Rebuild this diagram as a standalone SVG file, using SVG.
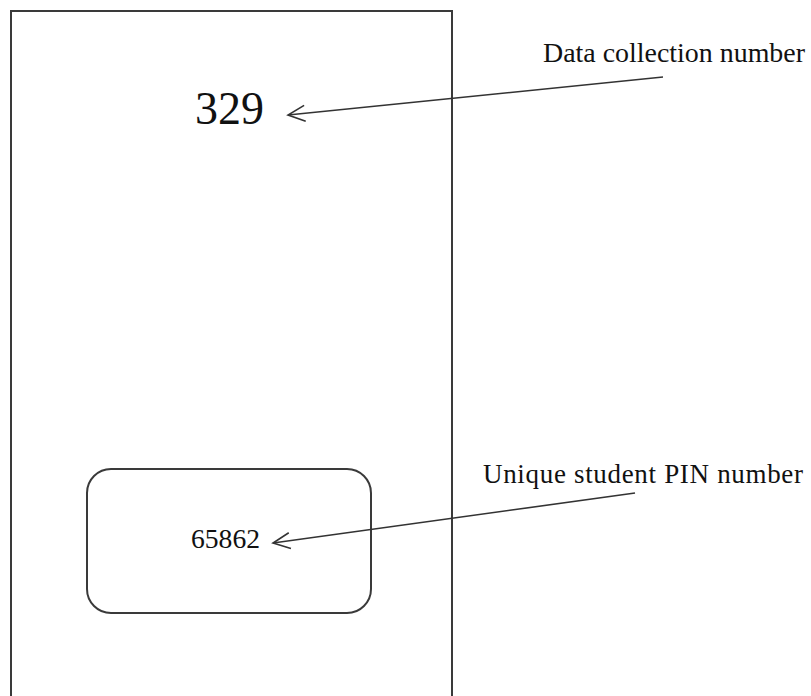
<svg xmlns="http://www.w3.org/2000/svg" width="811" height="696" viewBox="0 0 811 696">
<style>
.box{fill:none;stroke:#3a3a3a;stroke-width:2}
.lbl{font-family:"Liberation Serif","Times New Roman",serif;fill:#111}
.conn{fill:none;stroke:#333;stroke-width:1.6}
</style>
<defs>
<marker id="arr" markerWidth="20" markerHeight="18" refX="18" refY="9" orient="auto" markerUnits="userSpaceOnUse">
<path d="M1,1 L18,9 L1,17" fill="none" stroke="#333" stroke-width="1.6"/>
</marker>
</defs>
<rect width="811" height="696" fill="#fff"/>
<g id="card">
<rect class="box" x="11" y="11" width="441" height="700"/>
<text class="lbl" x="195" y="124" font-size="46">329</text>
</g>
<g id="pin-box">
<rect class="box" x="87" y="469" width="284" height="144" rx="24" ry="24" stroke-width="1.6"/>
<text class="lbl" x="191" y="548" font-size="27" textLength="69" lengthAdjust="spacingAndGlyphs">65862</text>
</g>
<g id="label-data">
<text class="lbl" x="543" y="62" font-size="28" textLength="262" lengthAdjust="spacingAndGlyphs">Data collection number</text>
</g>
<g id="label-pin">
<text class="lbl" x="483" y="483" font-size="27" textLength="320" lengthAdjust="spacing">Unique student PIN number</text>
</g>
<g id="connectors">
<line class="conn" x1="663" y1="77" x2="288" y2="115" marker-end="url(#arr)"/>
<line class="conn" x1="635" y1="493" x2="273" y2="543" marker-end="url(#arr)"/>
</g>
</svg>
